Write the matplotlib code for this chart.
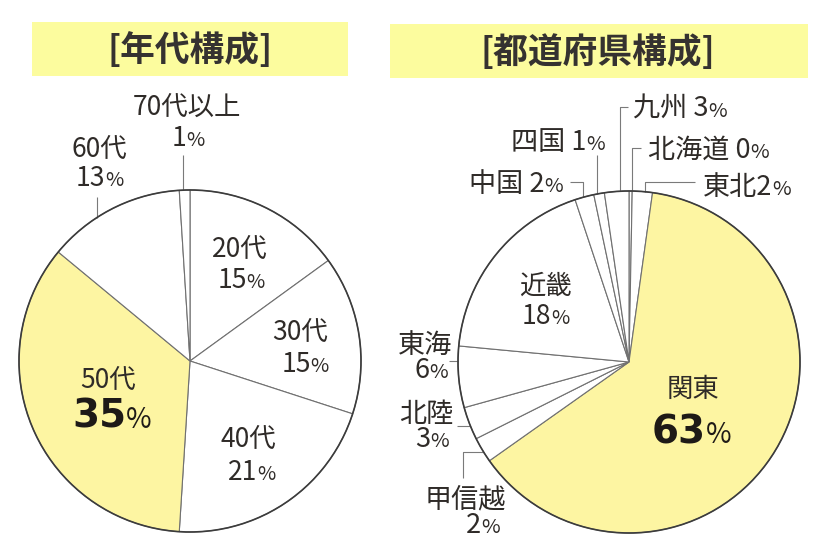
import matplotlib
matplotlib.use("Agg")
import matplotlib.pyplot as plt
from matplotlib.patches import Circle, Rectangle
import numpy as np

# ---------------- data ----------------
age_labels = ["20代", "30代", "40代", "50代", "60代", "70代以上"]
age_values = [15, 15, 21, 35, 13, 1]

pref_labels = ["北海道", "東北", "関東", "甲信越", "北陸", "東海", "近畿", "中国", "四国", "九州"]
pref_values = [0.3, 1.9, 63.0, 2.4, 3.1, 5.8, 18.4, 1.8, 1.0, 2.3]   # drawn shares
pref_pct = [0, 2, 63, 2, 3, 6, 18, 2, 1, 3]                          # printed labels

titles = ["[年代構成]", "[都道府県構成]"]

# ---------------- style ----------------
JP = ["Noto Sans CJK JP", "DejaVu Sans"]
plt.rcParams["font.family"] = JP
YELLOW = "#fdf5a2"
BOX = "#fcfc9e"
TXT = "#2f2b28"
W, H = 840, 540

fig = plt.figure(figsize=(8.4, 5.4), dpi=100)
ax = fig.add_axes([0, 0, 1, 1])
renderer = fig.canvas.get_renderer()


def Y(y):
    return H - y


# title boxes
ax.add_patch(Rectangle((32, Y(76)), 316, 54, facecolor=BOX, edgecolor="none", zorder=0))
ax.add_patch(Rectangle((390, Y(78)), 418, 54, facecolor=BOX, edgecolor="none", zorder=0))
ax.text(190, Y(50), titles[0], fontsize=25, fontweight="bold", color="#353230",
        ha="center", va="center", family=JP)
ax.text(598, Y(52), titles[1], fontsize=25, fontweight="bold", color="#353230",
        ha="center", va="center", family=JP)

# pies
R = 171
cL = (190, Y(361))
cR = (629, Y(362))
wp = dict(edgecolor="#707070", linewidth=0.8)
ax.pie(age_values, colors=["white", "white", "white", YELLOW, "white", "white"],
       startangle=90, counterclock=False, center=cL, radius=R, wedgeprops=wp,
       normalize=True)
pref_colors = ["white"] * len(pref_values)
pref_colors[pref_labels.index("関東")] = YELLOW
ax.pie(pref_values, colors=pref_colors, startangle=90, counterclock=False,
       center=cR, radius=R, wedgeprops=wp, normalize=True)
for c in (cL, cR):
    ax.add_patch(Circle(c, R, facecolor="none", edgecolor="#3c3c3c", linewidth=1.2, zorder=5))


def circ_y_at_x(c, x, top=True):
    dy = np.sqrt(R ** 2 - (x - c[0]) ** 2)
    return c[1] + dy if top else c[1] - dy


def circ_x_at_y(c, y, left=True):
    dx = np.sqrt(R ** 2 - (y - c[1]) ** 2)
    return c[0] - dx if left else c[0] + dx


def line(pts):
    xs, ys = zip(*pts)
    ax.plot(xs, ys, color="#7a7a7a", linewidth=0.8, zorder=4, solid_capstyle="butt")


def put(x, y, main, pct=True, ha="center", size=18, psize=None, weight="normal",
        family=JP, color=TXT):
    em = size * 100 / 72
    yb = Y(y + 0.36 * em)
    t = ax.text(0, yb, main, fontsize=size, fontweight=weight, family=family,
                color=color, ha="left", va="baseline", zorder=6)
    w = t.get_window_extent(renderer).width
    tp, wpx = None, 0
    if pct:
        psize = psize or size * 0.75
        tp = ax.text(0, yb, "%", fontsize=psize, family=JP, color=color,
                     ha="left", va="baseline", zorder=6)
        wpx = tp.get_window_extent(renderer).width
    total = w + wpx
    if ha == "center":
        x0 = x - total / 2
    elif ha == "right":
        x0 = x - total
    else:
        x0 = x
    t.set_x(x0)
    if tp is not None:
        tp.set_x(x0 + w)


# ---- left pie labels ----
LS = 19
put(240, 247, age_labels[0], pct=False, size=LS)
put(241, 278, str(age_values[0]), size=LS)
put(300, 330, age_labels[1], pct=False, size=LS)
put(305, 362, str(age_values[1]), size=LS)
put(248, 437, age_labels[2], pct=False, size=LS)
put(252, 470, str(age_values[2]), size=LS)
put(108, 378, age_labels[3], pct=False, size=LS)
put(112, 414, str(age_values[3]), size=28, psize=20, weight="bold",
    family=["DejaVu Sans"], color="#1e1a17")
put(99, 147, age_labels[4], pct=False, size=LS)
put(100, 177, str(age_values[4]), size=LS)
put(187, 105, age_labels[5], pct=False, size=LS)
put(188, 137, str(age_values[5]), size=LS)

# left leaders
line([(183, Y(155)), (183, circ_y_at_x(cL, 183))])
line([(97, Y(197)), (97, circ_y_at_x(cL, 97))])

# ---- right pie labels ----
RS = 19.5
put(693, 387, pref_labels[2], pct=False, size=LS)
put(692, 429, str(pref_pct[2]), size=28, psize=20, weight="bold",
    family=["DejaVu Sans"], color="#1e1a17")
put(545, 284, pref_labels[6], pct=False, size=LS)
put(546, 315, str(pref_pct[6]), size=LS)
put(452, 343, pref_labels[5], pct=False, ha="right", size=RS)
put(448, 368, str(pref_pct[5]), ha="right", size=RS)
put(453, 412, pref_labels[4], pct=False, ha="right", size=RS)
put(449, 437, str(pref_pct[4]), ha="right", size=RS)
put(425, 498, pref_labels[3], pct=False, ha="left", size=RS)
put(500, 523, str(pref_pct[3]), ha="right", size=RS)
put(563, 182, f"{pref_labels[7]} {pref_pct[7]}", ha="right", size=RS)
put(605, 140, f"{pref_labels[8]} {pref_pct[8]}", ha="right", size=RS)
put(633, 107, f"{pref_labels[9]} {pref_pct[9]}", ha="left", size=RS)
put(648, 148, f"{pref_labels[0]} {pref_pct[0]}", ha="left", size=RS)
put(703, 185, f"{pref_labels[1]}{pref_pct[1]}", ha="left", size=RS)

# right leaders
line([(449, Y(361)), (circ_x_at_y(cR, Y(361)), Y(361))])
line([(457, Y(426)), (circ_x_at_y(cR, Y(426)), Y(426))])
line([(463, Y(478)), (463, Y(452)), (circ_x_at_y(cR, Y(452)), Y(452))])
line([(570, Y(182)), (583, Y(182)), (583, circ_y_at_x(cR, 583))])
line([(597, Y(155)), (597, circ_y_at_x(cR, 597))])
line([(628, Y(107)), (620, Y(107)), (620, circ_y_at_x(cR, 620))])
line([(641, Y(148)), (632, Y(148)), (632, circ_y_at_x(cR, 632))])
line([(695, Y(182)), (645, Y(182)), (645, circ_y_at_x(cR, 645))])

ax.set_xlim(0, W)
ax.set_ylim(0, H)
ax.set_aspect("equal")
ax.axis("off")
fig.savefig("out.png", dpi=100, facecolor="white")
